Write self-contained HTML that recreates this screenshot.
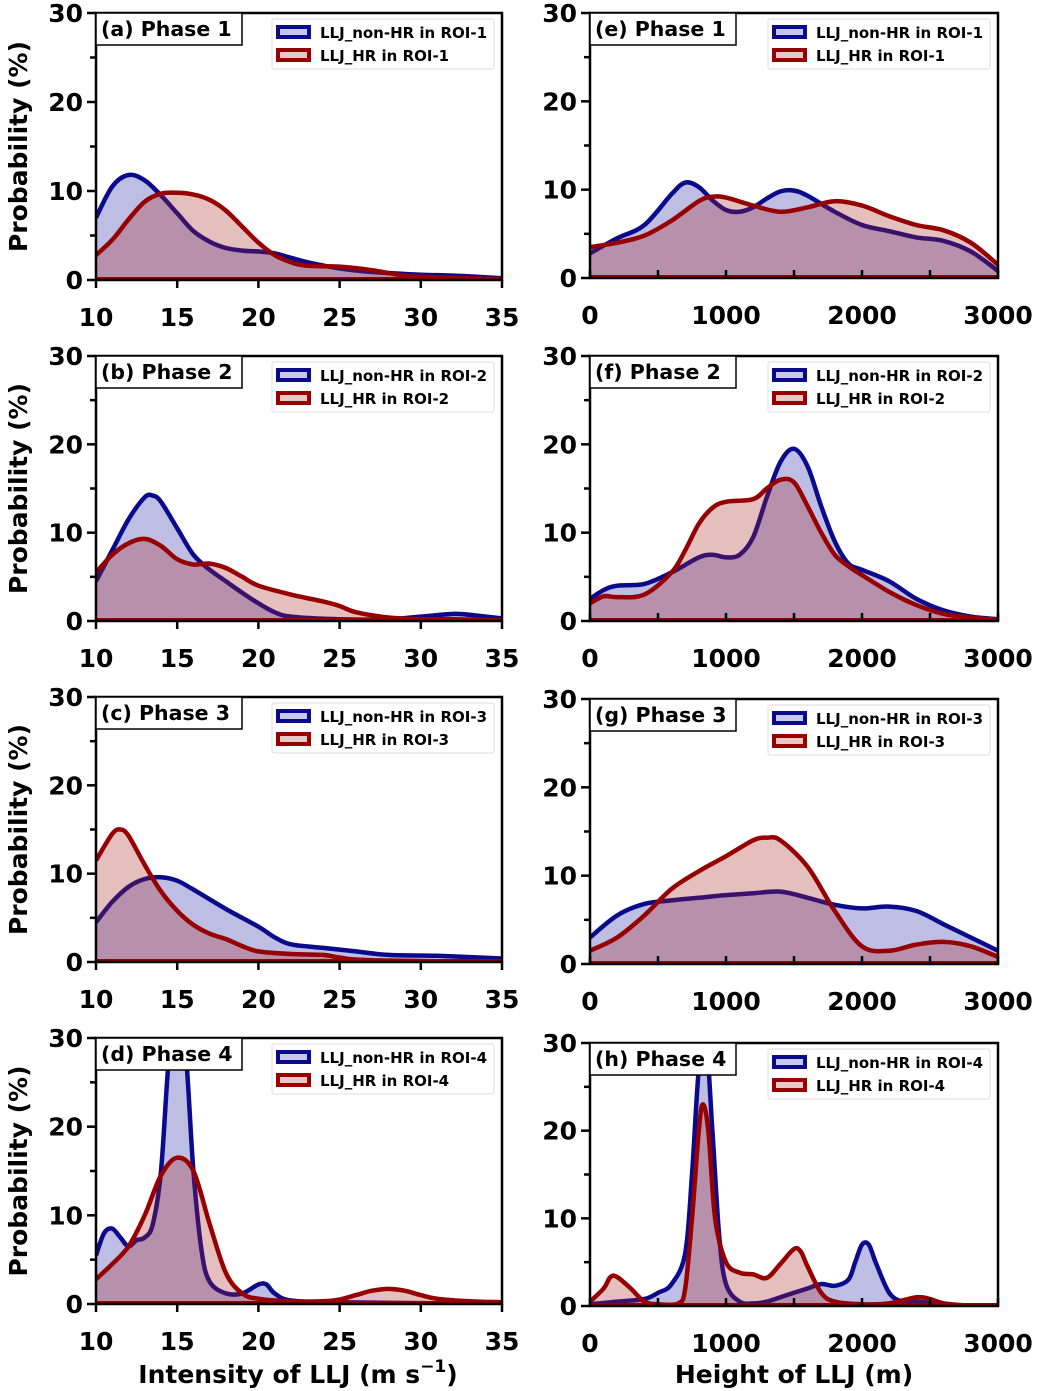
<!DOCTYPE html>
<html><head><meta charset="utf-8"><style>
body{margin:0;background:#fff;}
svg{display:block;font-family:"DejaVu Sans","Liberation Sans",sans-serif;font-weight:bold;}
</style></head><body>
<svg id="fig" width="1052" height="1391" viewBox="0 0 1052 1391" xmlns="http://www.w3.org/2000/svg"></svg>
<script>
// ---- data ----
const aBlueX=[10,11,12,13,14,15,16,17,18,19,20,21,22,23,25,27,30,32,35];
const aBlueY=[7,10.5,11.8,11.2,9.5,7.5,5.5,4.3,3.6,3.3,3.2,3,2.5,2,1.3,0.9,0.6,0.5,0.2];
const aRedX=[10,11,12,13,14,15,16,17,18,19,20,21,22,23,25,27,29,31,35];
const aRedY=[2.8,4.5,6.8,8.8,9.7,9.8,9.6,9,7.8,6,4.2,2.8,2,1.6,1.5,1.1,0.5,0.3,0.1];
const bBlueX=[10,11,12,13,13.5,14,15,16,17,18,19,20,21,22,25,28,30,32,33,35];
const bBlueY=[4.5,8,11.5,14,14.2,13.5,10.5,7.5,5.8,4.5,3.2,2,1,0.5,0.2,0.2,0.5,0.8,0.7,0.3];
const bRedX=[10,11,12,13,14,15,16,17,18,19,20,22,24,25,26,28,30,32,35];
const bRedY=[5.5,7.5,8.8,9.3,8.5,7,6.4,6.5,6,5,4,3,2.2,1.7,1,0.4,0.2,0.2,0.1];
const cBlueX=[10,11,12,13,14,15,16,18,20,21,22,24,26,28,31,35];
const cBlueY=[4.5,6.8,8.5,9.4,9.6,9.2,8.2,6,4,2.8,2,1.6,1.2,0.8,0.7,0.4];
const cRedX=[10,11,11.5,12,13,14,15,16,17,18,19,20,22,24,25,27,35];
const cRedY=[11.5,14.5,15,14.3,11,8,5.8,4.2,3.2,2.6,1.8,1.2,0.9,0.8,0.5,0.2,0];
const dBlueX=[10,10.5,11,11.5,12,12.5,13,13.5,14,14.5,15,15.5,16,16.5,17,18,19,20,20.5,21,22,25,35];
const dBlueY=[5.5,8,8.5,7.5,6.5,7.2,7.5,9,15,28,33,29,15,6,2.5,1.2,1.2,2.2,2.2,1.2,0.4,0.2,0];
const dRedX=[10,11,12,13,14,15,16,17,18,19,20,22,24,25,26,27,28,29,30,31,33,35];
const dRedY=[2.8,4.5,6.5,10,14.5,16.5,15,9,3.5,1.2,0.6,0.3,0.3,0.5,1,1.5,1.7,1.5,1,0.6,0.3,0.2];
const eBlueX=[0,200,400,600,700,800,900,1000,1100,1200,1300,1400,1500,1600,1800,2000,2200,2400,2600,2800,3000];
const eBlueY=[2.8,4.5,6,9.5,10.8,10.3,8.8,7.7,7.5,8,9,9.8,9.9,9.3,7.5,6,5.3,4.6,4.2,3,0.8];
const eRedX=[0,200,400,600,800,900,1000,1200,1400,1600,1800,2000,2200,2400,2600,2800,3000];
const eRedY=[3.5,4,4.8,6.5,8.7,9.2,9.1,8.2,7.5,8,8.7,8.2,7,6,5.4,4,1.5];
const fBlueX=[0,100,200,400,600,800,900,1000,1100,1200,1300,1400,1500,1600,1700,1800,1900,2000,2200,2400,2600,2800,3000];
const fBlueY=[2.5,3.5,4,4.2,5.5,7.2,7.5,7.2,7.5,9.5,14,18,19.5,17.5,13,9,6.5,5.8,4.5,2.5,1.2,0.5,0.2];
const fRedX=[0,100,200,400,600,700,800,900,1000,1200,1300,1400,1500,1600,1700,1800,1900,2000,2200,2400,2600,2800,3000];
const fRedY=[2,2.8,2.7,3,5.5,8,11,12.8,13.5,13.8,15,16,15.7,13,10,7.5,6.2,5.2,3.3,1.8,0.8,0.4,0.1];
const gBlueX=[0,200,400,600,800,1000,1200,1400,1600,1800,2000,2200,2400,2600,2800,3000];
const gBlueY=[3,5.5,6.8,7.2,7.5,7.8,8,8.2,7.5,6.7,6.3,6.5,6,4.5,3,1.5];
const gRedX=[0,200,400,600,800,1000,1200,1300,1400,1600,1800,2000,2200,2400,2600,2800,3000];
const gRedY=[1.5,3,5.5,8.5,10.5,12.2,14,14.3,14,11,6,2,1.5,2.2,2.5,2,0.8];
const hBlueX=[0,200,400,500,600,700,750,800,850,900,950,1000,1100,1200,1300,1400,1500,1600,1700,1800,1900,1950,2000,2050,2100,2200,2300,2400,2600,2800];
const hBlueY=[0.2,0.5,0.8,1.5,2.5,6,15,27,31,20,8,2.5,0.5,0.3,0.5,1,1.5,2,2.5,2.3,3,5,7,7,5,1.5,0.5,0.5,0.2,0];
const hRedX=[0,100,150,200,300,400,500,650,700,750,800,830,870,920,1000,1100,1200,1300,1400,1500,1550,1600,1700,1800,2000,2200,2400,2500,2600,2800];
const hRedY=[0.5,2,3.3,3.3,2,0.5,0.2,0.3,2,10,20,23,20,10,5,3.8,3.6,3.2,4.8,6.5,6.2,4.5,1.5,0.5,0.2,0.3,1,0.8,0.3,0];
const leftTicks=[10,15,20,25,30,35];
const rightTicks=[0,1000,2000,3000];
const yTicks=[0,10,20,30];

const panels=[
 {id:'a',t:'(a) Phase 1',roi:1,L:96,R:502,T:13,B:280,x0:10,x1:35,bx:aBlueX,by:aBlueY,rx:aRedX,ry:aRedY},
 {id:'b',t:'(b) Phase 2',roi:2,L:96,R:502,T:356,B:621,x0:10,x1:35,bx:bBlueX,by:bBlueY,rx:bRedX,ry:bRedY},
 {id:'c',t:'(c) Phase 3',roi:3,L:96,R:502,T:697,B:962,x0:10,x1:35,bx:cBlueX,by:cBlueY,rx:cRedX,ry:cRedY},
 {id:'d',t:'(d) Phase 4',roi:4,L:96,R:502,T:1038,B:1304,x0:10,x1:35,bx:dBlueX,by:dBlueY,rx:dRedX,ry:dRedY},
 {id:'e',t:'(e) Phase 1',roi:1,L:590,R:998,T:13,B:278,x0:0,x1:3000,bx:eBlueX,by:eBlueY,rx:eRedX,ry:eRedY},
 {id:'f',t:'(f) Phase 2',roi:2,L:590,R:998,T:356,B:621,x0:0,x1:3000,bx:fBlueX,by:fBlueY,rx:fRedX,ry:fRedY},
 {id:'g',t:'(g) Phase 3',roi:3,L:590,R:998,T:699,B:964,x0:0,x1:3000,bx:gBlueX,by:gBlueY,rx:gRedX,ry:gRedY},
 {id:'h',t:'(h) Phase 4',roi:4,L:590,R:998,T:1043,B:1306,x0:0,x1:3000,bx:hBlueX,by:hBlueY,rx:hRedX,ry:hRedY}
];
const NS='http://www.w3.org/2000/svg';
const svg=document.getElementById('fig');
function mk(tag,attrs,parent){const e=document.createElementNS(NS,tag);for(const k in attrs)e.setAttribute(k,attrs[k]);(parent||svg).appendChild(e);return e;}
function smooth(pts){let d='M'+pts[0][0]+','+pts[0][1];for(let i=0;i<pts.length-1;i++){const p0=pts[i-1]||pts[i],p1=pts[i],p2=pts[i+1],p3=pts[i+2]||p2;
 const c1=[p1[0]+(p2[0]-p0[0])/6,p1[1]+(p2[1]-p0[1])/6],c2=[p2[0]-(p3[0]-p1[0])/6,p2[1]-(p3[1]-p1[1])/6];
 d+=' C'+c1[0].toFixed(1)+','+c1[1].toFixed(1)+' '+c2[0].toFixed(1)+','+c2[1].toFixed(1)+' '+p2[0].toFixed(1)+','+p2[1].toFixed(1);}return d;}
const defs=mk('defs',{});
panels.forEach(p=>{
 const sx=v=>p.L+(v-p.x0)/(p.x1-p.x0)*(p.R-p.L);
 const sy=v=>p.B-v/30*(p.B-p.T);
 const g=mk('g',{});
 
 
 const cp=mk('clipPath',{id:'clip'+p.id},defs);mk('rect',{x:p.L,y:p.T,width:p.R-p.L,height:p.B-p.T},cp);
 const pg=mk('g',{'clip-path':'url(#clip'+p.id+')'},g);
 [[p.bx,p.by,'rgba(40,40,170,0.3)','#0a0a8c','blue'],[p.rx,p.ry,'rgba(170,40,40,0.3)','#960000','red']].forEach(s=>{
  const pts=s[0].map((x,i)=>[sx(x),sy(s[1][i])]);
  const d=smooth(pts);
  const f=mk('path',{d:d+' L'+pts[pts.length-1][0]+','+p.B+' L'+pts[0][0]+','+p.B+' Z',fill:s[2],stroke:'none'},pg);
  
  
  const l=mk('path',{d:d,fill:'none',stroke:s[3],'stroke-width':4.5,'stroke-linejoin':'round'},pg);
  
  
 });
 mk('line',{x1:p.L,x2:p.R,y1:p.B-1.5,y2:p.B-1.5,stroke:'#960000','stroke-width':3},pg);
 mk('rect',{x:p.L,y:p.T,width:p.R-p.L,height:p.B-p.T,fill:'none',stroke:'#000','stroke-width':2.5},g);
 for(let v=0;v<=30;v+=5){mk('line',{x1:p.L-(v%10?6:9),x2:p.L,y1:sy(v),y2:sy(v),stroke:'#000','stroke-width':2.5},g);}
 yTicks.forEach(v=>{const t=mk('text',{x:p.L-13,y:sy(v)+9,'text-anchor':'end','font-size':25},g);t.textContent=v;
  });
 const left=p.x0===10;
 const minor=left?5:500;
 for(let v=p.x0;v<=p.x1;v+=minor){mk('line',{x1:sx(v),x2:sx(v),y1:p.B,y2:p.B+(left?8:-8),stroke:'#000','stroke-width':2.5},g);}
 (left?leftTicks:rightTicks).forEach(v=>{const t=mk('text',{x:sx(v),y:p.B+46,'text-anchor':'middle','font-size':25},g);t.textContent=v;
  });
 const tb=mk('g',{},g);
 
 
 mk('rect',{x:p.L,y:p.T,width:146,height:32,fill:'#fff',stroke:'#000','stroke-width':1.5},tb);
 const tt=mk('text',{x:p.L+5,y:p.T+23,'font-size':20.5},tb);tt.textContent=p.t;
 const lg=mk('g',{},g);
 
 
 const lx=p.R-230,ly=p.T+6;
 mk('rect',{x:lx,y:ly,width:222,height:50,fill:'#fff',stroke:'#ddd','stroke-width':1,rx:2},lg);
 [['LLJ_non-HR in ROI-'+p.roi,'#0a0a8c','#c8c8ee'],['LLJ_HR in ROI-'+p.roi,'#960000','#eac8c8']].forEach((e,i)=>{
  mk('rect',{x:lx+6,y:ly+8+i*23,width:31,height:10,fill:e[2],stroke:e[1],'stroke-width':4},lg);
  const t=mk('text',{x:lx+48,y:ly+19+i*23,'font-size':15},lg);t.textContent=e[0];
 });
 if(left){const yl=mk('text',{x:0,y:0,'font-size':25,'text-anchor':'middle',transform:'translate(27,'+((p.T+p.B)/2)+') rotate(-90)'},g);yl.textContent='Probability (%)';
  }
});
const xl1=mk('text',{x:298,y:1383,'text-anchor':'middle','font-size':25});

xl1.innerHTML='Intensity of LLJ (m s<tspan dy="-11" font-size="17">−1</tspan><tspan dy="11">)</tspan>';
const xl2=mk('text',{x:794,y:1383,'text-anchor':'middle','font-size':25});

xl2.textContent='Height of LLJ (m)';
</script>
</body></html>
